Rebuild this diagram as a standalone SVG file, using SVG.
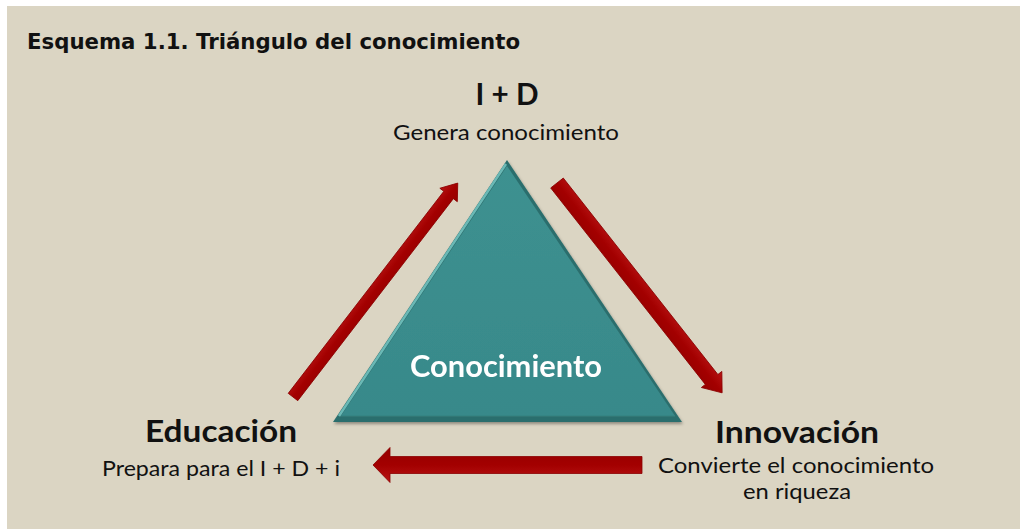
<svg xmlns="http://www.w3.org/2000/svg" width="1020" height="529" viewBox="0 0 1020 529">
<style>
.title{font-family:"DejaVu Sans","Liberation Sans",sans-serif;font-weight:bold;font-size:22px;fill:#111}
.head{font-family:Lato,"Liberation Sans",sans-serif;font-weight:bold;font-size:30px;fill:#111;text-anchor:middle}
.sub{font-family:Lato,"Liberation Sans",sans-serif;font-size:22px;fill:#111;text-anchor:middle}
.core{font-family:Lato,"Liberation Sans",sans-serif;font-weight:bold;font-size:30px;fill:#fff;text-anchor:middle}
.arrow{fill:url(#ag);stroke:#8a0000;stroke-width:0.8}
</style>
<defs>
<linearGradient id="ag" x1="0" y1="0" x2="0" y2="1">
<stop offset="0" stop-color="#b81515"/>
<stop offset="0.5" stop-color="#a30000"/>
<stop offset="1" stop-color="#960000"/>
</linearGradient>
<linearGradient id="tg" x1="0" y1="0" x2="0" y2="1">
<stop offset="0" stop-color="#3d9190"/>
<stop offset="1" stop-color="#38898a"/>
</linearGradient>
<filter id="sh" x="-10%" y="-10%" width="120%" height="120%">
<feDropShadow dx="1" dy="2" stdDeviation="1.5" flood-color="#000" flood-opacity="0.35"/>
</filter>
</defs>
<rect x="0" y="0" width="1020" height="529" fill="#ffffff"/>
<rect x="7" y="6" width="1013" height="523" fill="#dbd5c3"/>
<text class="title" x="27" y="49" textLength="493" lengthAdjust="spacingAndGlyphs">Esquema 1.1. Triángulo del conocimiento</text>
<g id="triangulo" filter="url(#sh)">
<polygon points="507,160 333,422 682,422" fill="#2c6e6d"/>
<polygon points="507,166 341,416 675,416" fill="url(#tg)"/>
<line x1="506" y1="164" x2="339" y2="416" stroke="#6ab9b6" stroke-width="2.5"/>
<line x1="341" y1="416" x2="675" y2="416" stroke="#34807f" stroke-width="1"/>
<text class="core" x="506" y="377" textLength="192" lengthAdjust="spacingAndGlyphs">Conocimiento</text>
</g>
<g id="id">
<text class="head" x="507" y="105" textLength="63" lengthAdjust="spacingAndGlyphs">I + D</text>
<text class="sub" x="506" y="140" textLength="226" lengthAdjust="spacingAndGlyphs">Genera conocimiento</text>
</g>
<g id="educacion">
<text class="head" x="221" y="442" textLength="152" lengthAdjust="spacingAndGlyphs">Educación</text>
<text class="sub" x="221" y="476" textLength="238" lengthAdjust="spacingAndGlyphs">Prepara para el I + D + i</text>
</g>
<g id="innovacion">
<text class="head" x="797" y="443" textLength="164" lengthAdjust="spacingAndGlyphs">Innovación</text>
<text class="sub" x="796" y="473" textLength="276" lengthAdjust="spacingAndGlyphs">Convierte el conocimiento</text>
<text class="sub" x="797" y="499" textLength="108" lengthAdjust="spacingAndGlyphs">en riqueza</text>
</g>
<g id="conectores">
<path class="arrow" transform="translate(293,397) rotate(-52.4)" d="M0,-6 L255,-6 L255,-11 L270,0 L255,11 L255,6 L0,6 Z"/>
<path class="arrow" transform="translate(557,183) rotate(51.8)" d="M0,-8 L250,-8 L250,-13 L267,0 L250,13 L250,8 L0,8 Z"/>
<path class="arrow" transform="translate(642,465) rotate(180)" d="M0,-8.5 L252,-8.5 L252,-17.5 L269,0 L252,17.5 L252,8.5 L0,8.5 Z"/>
</g>
</svg>
